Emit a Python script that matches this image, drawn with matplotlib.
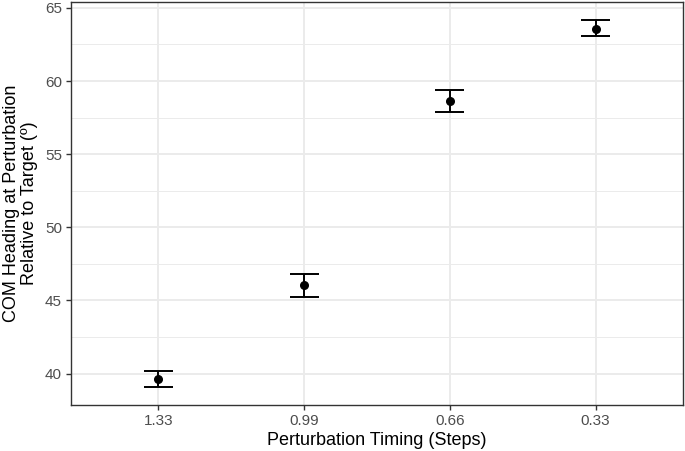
import numpy as np
import matplotlib.pyplot as plt
from matplotlib.ticker import MultipleLocator

plt.rcParams['font.family'] = ['Liberation Sans', 'DejaVu Sans']

timing_labels = ["1.33", "0.99", "0.66", "0.33"]
heading_mean = [39.62, 46.03, 58.60, 63.58]
heading_low = [39.10, 45.20, 57.87, 63.09]
heading_high = [40.16, 46.81, 59.37, 64.15]

fig = plt.figure(figsize=(6.85, 4.51), dpi=100)
ax = fig.add_axes([71 / 685, 1 - 405 / 451, 612 / 685, 403 / 451])

x = np.arange(len(timing_labels))
mean = np.array(heading_mean)
low = np.array(heading_low)
high = np.array(heading_high)

# grid like theme_bw
ax.set_axisbelow(True)
ax.yaxis.set_major_locator(MultipleLocator(5))
ax.yaxis.set_minor_locator(MultipleLocator(2.5))
ax.grid(True, which='major', axis='both', color='#EBEBEB', linewidth=1.4)
ax.grid(True, which='minor', axis='y', color='#EBEBEB', linewidth=0.7)

# error bars with caps (width 0.2 of category)
cap = 0.1
for xi, lo, hi in zip(x, low, high):
    ax.plot([xi, xi], [lo, hi], color='black', linewidth=1.4, solid_capstyle='butt', zorder=3)
    ax.plot([xi - cap, xi + cap], [lo, lo], color='black', linewidth=1.4, solid_capstyle='butt', zorder=3)
    ax.plot([xi - cap, xi + cap], [hi, hi], color='black', linewidth=1.4, solid_capstyle='butt', zorder=3)
ax.scatter(x, mean, s=30, color='black', zorder=4)

span = high.max() - low.min()
ax.set_ylim(low.min() - 0.05 * span, high.max() + 0.05 * span)
ax.set_xlim(-0.6, len(x) - 1 + 0.6)
ax.set_xticks(x)
ax.set_xticklabels(timing_labels)

for s in ax.spines.values():
    s.set_color('#333333')
    s.set_linewidth(1.0)
ax.tick_params(axis='both', which='major', colors='#333333', length=3.5, width=1.0,
               labelsize=11, labelcolor='#4D4D4D', pad=3)
ax.tick_params(axis='y', which='minor', length=0)

ax.set_xlabel("Perturbation Timing (Steps)", fontsize=13, color='black', labelpad=3)
ax.set_ylabel("COM Heading at Perturbation\nRelative to Target (º)", fontsize=13,
              color='black', labelpad=5, linespacing=1.1)

fig.savefig("out.png", dpi=100)
